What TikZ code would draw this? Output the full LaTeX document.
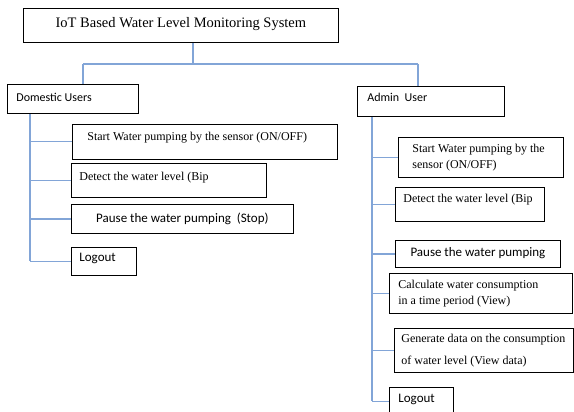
\documentclass[tikz,border=0pt]{standalone}
\usepackage{fontspec}
\setmainfont{Liberation Serif}
\newfontfamily\uifont{Carlito}
\definecolor{linkblue}{RGB}{130,165,215}

\begin{document}
\begin{tikzpicture}[
x=1pt, y=-1pt,
box/.style={draw, line width=0.8pt, anchor=north west, inner ysep=0pt, align=flush left},
serifbox/.style={box, font=\fontsize{12}{14.4}\selectfont},
uibox/.style={box, font=\uifont\fontsize{12}{14.4}\selectfont},
bigui/.style={box, font=\uifont\fontsize{13}{15.6}\selectfont},
tdepth/.style={text height=8pt, text depth=#1},
link/.style={draw=linkblue, line width=1.2pt}]
\clip (0,0) rectangle (574,412);
% Nodes
\node[serifbox, font=\fontsize{14.5}{17}\selectfont, align=center, minimum width=315pt, minimum height=34pt, text height=10pt, text depth=6pt] (title) at (23,8) {IoT Based Water Level Monitoring System};
\node[uibox, inner xsep=9pt, text width=113pt, minimum height=29pt, tdepth=3pt] (dom) at (7,84) {Domestic Users};
\node[uibox, inner xsep=10pt, text width=127pt, minimum height=30pt, tdepth=7pt] (adm) at (357,86) {Admin\ \ User};
% Domestic users
\node[serifbox, inner xsep=15pt, text width=235pt, minimum height=35pt, tdepth=11pt] (d1) at (72,124) {Start Water pumping by the sensor (ON/OFF)};
\node[serifbox, inner xsep=8pt, text width=179pt, minimum height=34pt, tdepth=7pt] (d2) at (71,163) {Detect the water level (Bip};
\node[bigui, align=center, inner xsep=0pt, minimum width=222pt, minimum height=29pt, tdepth=1pt] (d3) at (71,204) {Pause the water pumping\ \ (Stop)};
\node[bigui, inner xsep=8pt, text width=49pt, minimum height=28pt, tdepth=7pt] (d4) at (71,247) {Logout};
% Admin user
\node[serifbox, inner xsep=14pt, text width=137pt, minimum height=40pt] (a1) at (398,137) {Start Water pumping by the\\[1.6pt] sensor (ON/OFF)};
\node[serifbox, inner xsep=8pt, text width=133pt, minimum height=34pt, tdepth=11pt] (a2) at (395,187) {Detect the water level (Bip};
\node[bigui, align=center, inner xsep=0pt, minimum width=165pt, minimum height=27pt, tdepth=2pt] (a3) at (395,240) {Pause the water pumping};
\node[serifbox, inner xsep=9pt, text width=165pt, minimum height=40pt] (a4) at (389,273) {Calculate water consumption\\[1.6pt] in a time period (View)};
\node[serifbox, inner xsep=7pt, text width=165pt, minimum height=44pt] (a5) at (394,328) {Generate data on the consumption\\[7.6pt] of water level (View data)};
\node[bigui, inner xsep=9pt, text width=46pt, minimum height=28pt, tdepth=5pt] (a6) at (389,387) {Logout};
% Lines
\coordinate (jt) at (193,64);
\coordinate (jd) at (83,64);
\coordinate (ja) at (418,64);
\coordinate (dtrunk) at (30,0);
\coordinate (atrunk) at (372,0);
\draw[link] (jt |- title.south) -- (jt);
\draw[link] (jd) -- (ja);
\draw[link] (jd) -- (jd |- dom.north);
\draw[link] (ja) -- (ja |- adm.north);
\draw[link] (dtrunk |- dom.south) -- (dtrunk |- d4.west);
\foreach \b in {d1,d2,d3,d4}
  \draw[link] (dtrunk |- \b.west) -- (\b.west);
\draw[link] (atrunk |- adm.south) -- (atrunk |- a6.west);
\foreach \b in {a1,a2,a3,a4,a5,a6}
  \draw[link] (atrunk |- \b.west) -- (\b.west);
\end{tikzpicture}
\end{document}
